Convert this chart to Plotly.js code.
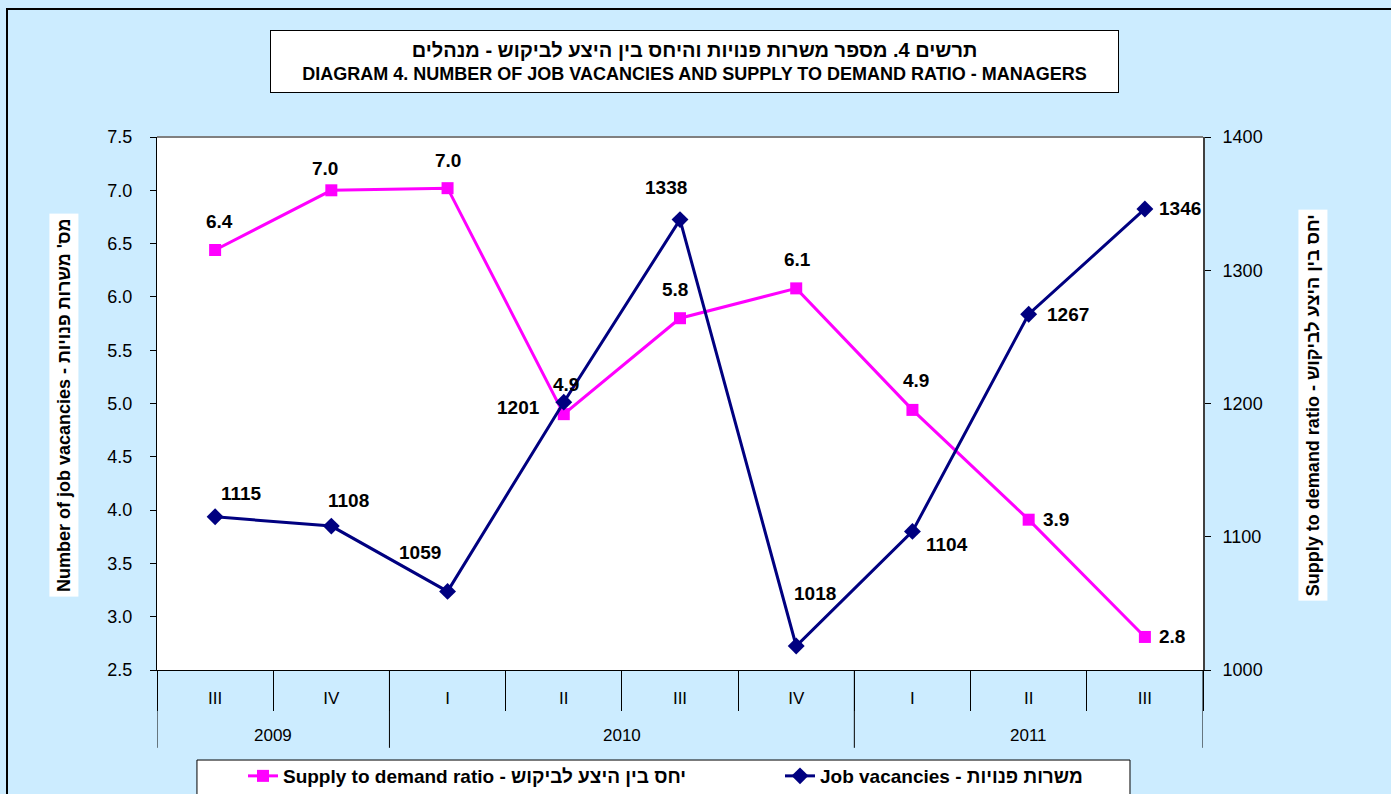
<!DOCTYPE html>
<html>
<head>
<meta charset="utf-8">
<script src="https://cdn.plot.ly/plotly-3.0.1.min.js"></script>
<style>html,body{margin:0;padding:0;background:#CCECFF;}#chart{width:1391px;height:794px;}</style>
</head>
<body>
<div id="chart"></div>
<script>
// ---- data ----
const years = ['2009','2009','2010','2010','2010','2010','2011','2011','2011'];
const quarters = ['III','IV','I','II','III','IV','I','II','III'];
const supplyDemandRatio = [6.44, 7.00, 7.02, 4.90, 5.80, 6.08, 4.94, 3.91, 2.81];
const jobVacancies = [1115, 1108, 1059, 1201, 1338, 1018, 1104, 1267, 1346];

const ratioName = 'Supply to demand ratio - יחס בין היצע לביקוש';
const vacName = 'Job vacancies - משרות פנויות';
const titleHe = 'תרשים 4. מספר משרות פנויות והיחס בין היצע לביקוש - מנהלים';
const titleEn = 'DIAGRAM 4. NUMBER OF JOB VACANCIES AND SUPPLY TO DEMAND RATIO - MANAGERS';
const leftTitle = 'Number of job vacancies - מס\' משרות פנויות';
const rightTitle = 'Supply to demand ratio - יחס בין היצע לביקוש';

// ---- label offsets (style, px) ----
const ratioShift = [[4,29],[-6,22],[0,28],[2,30],[-5,29],[1,29],[4,29],[27,0],[27,0]];
const vacShift = [[26,23],[17,26],[-28,39],[-45,-5],[-14,32],[19,53],[35,-13],[39,0],[35,0]];

const FONT = '"Liberation Sans", Arial, "DejaVu Sans", sans-serif';
const PINK = '#FF00FF', NAVY = '#000080';

const idx = quarters.map((q, i) => i);

const traces = [
  {
    x: idx, y: supplyDemandRatio, name: ratioName, type: 'scatter', mode: 'lines+markers',
    line: {color: PINK, width: 3}, marker: {symbol: 'square', size: 12, color: PINK},
    yaxis: 'y', hoverinfo: 'y', legend: 'legend'
  },
  {
    x: idx, y: jobVacancies, name: vacName, type: 'scatter', mode: 'lines+markers',
    line: {color: NAVY, width: 3}, marker: {symbol: 'diamond', size: 13, color: NAVY},
    yaxis: 'y2', hoverinfo: 'y', legend: 'legend2'
  }
];

const annotations = [];
supplyDemandRatio.forEach((v, i) => {
  annotations.push({x: i, y: v, xref: 'x', yref: 'y', text: '<b>' + v.toFixed(1) + '</b>',
    showarrow: false, xanchor: 'center', yanchor: 'middle',
    xshift: ratioShift[i][0], yshift: ratioShift[i][1],
    font: {family: FONT, size: 19, color: '#000'}});
});
jobVacancies.forEach((v, i) => {
  annotations.push({x: i, y: v, xref: 'x', yref: 'y2', text: '<b>' + v + '</b>',
    showarrow: false, xanchor: 'center', yanchor: 'middle',
    xshift: vacShift[i][0], yshift: vacShift[i][1],
    font: {family: FONT, size: 19, color: '#000'}});
});

// year group labels and dividers from the years array
const groups = [];
years.forEach((y, i) => {
  if (!groups.length || groups[groups.length - 1].year !== y) groups.push({year: y, start: i, end: i});
  else groups[groups.length - 1].end = i;
});
const shapes = [];
groups.forEach(g => {
  annotations.push({x: (g.start + g.end) / 2, xref: 'x', y: -0.122, yref: 'paper', text: g.year,
    showarrow: false, xanchor: 'center', yanchor: 'middle', font: {family: FONT, size: 17, color: '#000'}});
  shapes.push({type: 'line', xref: 'x', yref: 'paper', x0: g.start - 0.5, x1: g.start - 0.5, y0: 0, y1: -0.146,
    line: {color: '#000', width: 1}});
});
shapes.push({type: 'line', xref: 'x', yref: 'paper', x0: years.length - 0.5, x1: years.length - 0.5, y0: 0, y1: -0.146,
  line: {color: '#000', width: 1}});

// title box
annotations.push({xref: 'paper', yref: 'paper', x: 0.5139, y: 1.1417, xanchor: 'center', yanchor: 'middle',
  showarrow: false, width: 845, height: 59, bgcolor: '#FFFFFF', bordercolor: '#000', borderwidth: 1,
  text: '<span style="font-size:20px"><b>' + titleHe + '</b></span><br><span style="font-size:18px"><b>' + titleEn + '</b></span>',
  font: {family: FONT, size: 18, color: '#000'}});
// axis titles
annotations.push({xref: 'paper', yref: 'paper', x: -0.0889, y: 0.497, xanchor: 'center', yanchor: 'middle',
  showarrow: false, textangle: -90, bgcolor: '#FFFFFF', borderpad: 4,
  text: '<b>' + leftTitle + '</b>', font: {family: FONT, size: 18, color: '#000'}});
annotations.push({xref: 'paper', yref: 'paper', x: 1.1052, y: 0.497, xanchor: 'center', yanchor: 'middle',
  showarrow: false, textangle: -90, bgcolor: '#FFFFFF', borderpad: 4,
  text: '<b>' + rightTitle + '</b>', font: {family: FONT, size: 18, color: '#000'}});

shapes.push(
  {type: 'line', xref: 'paper', yref: 'paper', x0: 0, x1: 1, y0: 1, y1: 1, line: {color: '#808080', width: 2}},
  {type: 'rect', xref: 'paper', yref: 'paper', x0: 0.0382, x1: 0.9302, y0: -0.1689, y1: -0.26,
    fillcolor: '#FFFFFF', line: {color: '#000', width: 1}, layer: 'below'},
  {type: 'rect', xref: 'paper', yref: 'paper', x0: -0.1434, x1: 1.195, y0: 1.2402, y1: -0.3,
    fillcolor: 'rgba(0,0,0,0)', line: {color: '#000', width: 2}}
);

const legendStyle = {orientation: 'h', xref: 'paper', yref: 'paper', y: -0.1989,
  xanchor: 'left', yanchor: 'middle', bgcolor: 'rgba(0,0,0,0)', borderwidth: 0,
  font: {family: FONT, size: 19, color: '#000', weight: 'bold'}};

const layout = {
  width: 1391, height: 794,
  paper_bgcolor: '#CCECFF', plot_bgcolor: '#FFFFFF',
  margin: {l: 157, r: 188, t: 137, b: 124, pad: 0, autoexpand: false},
  font: {family: FONT, color: '#000'},
  showlegend: true,
  legend: Object.assign({}, legendStyle, {x: 0.0822}),
  legend2: Object.assign({}, legendStyle, {x: 0.5956}),
  xaxis: {range: [-0.5, quarters.length - 0.5], tickmode: 'array', tickvals: idx, ticktext: quarters,
    ticks: '', ticklabelstandoff: 13, showline: true, linecolor: '#000', linewidth: 1,
    minor: {tickmode: 'array', tickvals: idx.concat([quarters.length]).map(i => i - 0.5),
      ticks: 'outside', ticklen: 40, tickcolor: '#000', tickwidth: 1, showgrid: false},
    showgrid: false, zeroline: false, fixedrange: true, tickfont: {family: FONT, size: 17, color: '#000'}},
  yaxis: {range: [2.5, 7.5], dtick: 0.5, tickformat: '.1f', ticks: 'outside', ticklen: 6, tickcolor: '#000',
    showline: true, linecolor: '#000', linewidth: 1, showgrid: false, zeroline: false,
    ticklabelstandoff: 14, tickfont: {family: FONT, size: 18, color: '#000'}},
  yaxis2: {range: [1000, 1400], dtick: 100, overlaying: 'y', side: 'right', ticks: 'outside', ticklen: 6, tickcolor: '#000',
    showline: true, linecolor: '#404040', linewidth: 2, showgrid: false, zeroline: false,
    ticklabelstandoff: 8, tickfont: {family: FONT, size: 18, color: '#000'}},
  shapes: shapes,
  annotations: annotations
};

Plotly.newPlot('chart', traces, layout, {displayModeBar: false, responsive: false});
</script>
</body>
</html>
